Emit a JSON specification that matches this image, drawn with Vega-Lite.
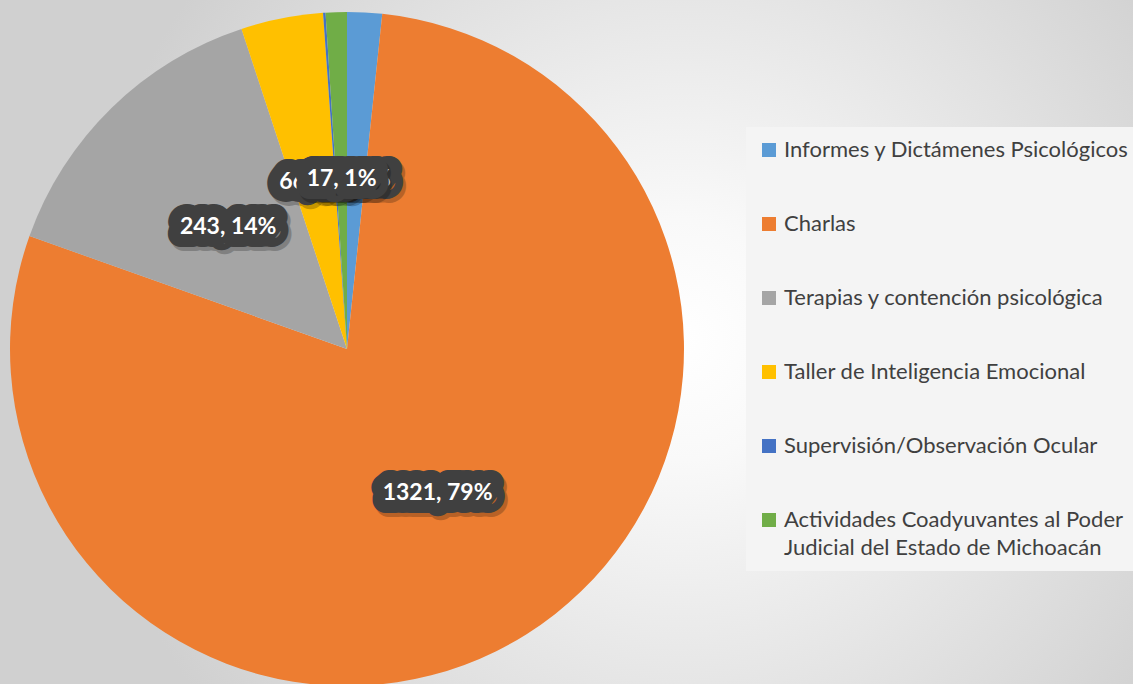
{
  "$schema": "https://vega.github.io/schema/vega-lite/v6.json",
  "width": 694,
  "height": 698,
  "autosize": {"type": "none"},
  "padding": {"left": 0, "top": 0, "right": 439, "bottom": 0},
  "background": "#dadada",
  "config": {"view": {"stroke": null}},
  "datasets": {
    "slices": [
      {"n": 1, "category": "Informes y Dictámenes Psicológicos", "value": 28, "label": "28, 2%"},
      {"n": 2, "category": "Charlas", "value": 1321, "label": "1321, 79%"},
      {"n": 3, "category": "Terapias y contención psicológica", "value": 243, "label": "243, 14%"},
      {"n": 4, "category": "Taller de Inteligencia Emocional", "value": 66, "label": "66, 4%"},
      {"n": 5, "category": "Supervisión/Observación Ocular", "value": 2, "label": "2, 0%"},
      {"n": 6, "category": "Actividades Coadyuvantes al Poder Judicial del Estado de Michoacán", "value": 17, "label": "17, 1%"}
    ],
    "backdrop": [{"name": "background"}]
  },
  "layer": [
    {
      "data": {"name": "backdrop"},
      "mark": {
        "type": "arc",
        "radius": 1000,
        "fill": {
          "gradient": "radial",
          "x1": 0.6665, "y1": 0.4955, "r1": 0,
          "x2": 0.6665, "y2": 0.4955, "r2": 0.3,
          "stops": [
            {"offset": 0, "color": "#ffffff"},
            {"offset": 0.2, "color": "#f9f9f9"},
            {"offset": 1, "color": "#d0d0d0"}
          ]
        }
      },
      "encoding": {}
    },
    {
      "data": {"name": "slices"},
      "encoding": {
        "theta": {"field": "value", "type": "quantitative", "stack": true},
        "order": {"field": "n", "type": "quantitative"}
      },
      "layer": [
        {
          "mark": {"type": "arc", "radius": 337},
          "encoding": {
            "color": {
              "field": "category",
              "type": "nominal",
              "sort": null,
              "scale": {
                "domain": ["Informes y Dictámenes Psicológicos", "Charlas", "Terapias y contención psicológica", "Taller de Inteligencia Emocional", "Supervisión/Observación Ocular", "Actividades Coadyuvantes al Poder Judicial del Estado de Michoacán"],
                "range": ["#5B9BD5", "#ED7D31", "#A5A5A5", "#FFC000", "#4472C4", "#70AD47"]
              },
              "legend": {
                "title": null,
                "orient": "none",
                "legendX": 746,
                "legendY": 127,
                "padding": 12,
                "fillColor": "#f4f4f4",
                "symbolType": "square",
                "symbolSize": 196,
                "symbolStrokeWidth": 0,
                "symbolOffset": 0,
                "labelOffset": 4,
                "labelFont": "Lato",
                "labelFontSize": 22,
                "labelColor": "#404040",
                "labelLimit": 400,
                "rowPadding": 52,
                "labelExpr": "indexof(datum.label, 'Poder Judicial') >= 0 ? ['Actividades Coadyuvantes al Poder', 'Judicial del Estado de Michoacán'] : datum.label",
                "encode": {"labels": {"update": {"lineHeight": {"value": 28}}}}
              }
            }
          }
        },
        {
          "mark": {"type": "text", "radius": 170, "font": "Lato", "fontWeight": "bold", "fontSize": 23, "align": "center", "baseline": "middle", "dx": 3, "dy": 4, "fill": "#000", "stroke": "#000", "strokeWidth": 26, "strokeJoin": "round"},
          "encoding": {"text": {"field": "label"}, "opacity": {"condition": {"test": "datum.n == 1", "value": 0.22}, "value": 0}}
        },
        {
          "mark": {"type": "text", "radius": 170, "font": "Lato", "fontWeight": "bold", "fontSize": 23, "align": "center", "baseline": "middle", "fill": "#404040", "stroke": "#404040", "strokeWidth": 26, "strokeJoin": "round"},
          "encoding": {"text": {"field": "label"}, "opacity": {"condition": {"test": "datum.n == 1", "value": 1}, "value": 0}}
        },
        {
          "mark": {"type": "text", "radius": 170, "font": "Lato", "fontWeight": "bold", "fontSize": 23, "align": "center", "baseline": "middle", "fill": "#ffffff"},
          "encoding": {"text": {"field": "label"}, "opacity": {"condition": {"test": "datum.n == 1", "value": 1}, "value": 0}}
        },
        {
          "mark": {"type": "text", "radius": 170, "font": "Lato", "fontWeight": "bold", "fontSize": 23, "align": "center", "baseline": "middle", "dx": 3, "dy": 4, "fill": "#000", "stroke": "#000", "strokeWidth": 26, "strokeJoin": "round"},
          "encoding": {"text": {"field": "label"}, "opacity": {"condition": {"test": "datum.n >= 2 && datum.n <= 5", "value": 0.22}, "value": 0}}
        },
        {
          "mark": {"type": "text", "radius": 170, "font": "Lato", "fontWeight": "bold", "fontSize": 23, "align": "center", "baseline": "middle", "fill": "#404040", "stroke": "#404040", "strokeWidth": 26, "strokeJoin": "round"},
          "encoding": {"text": {"field": "label"}, "opacity": {"condition": {"test": "datum.n >= 2 && datum.n <= 5", "value": 1}, "value": 0}}
        },
        {
          "mark": {"type": "text", "radius": 170, "font": "Lato", "fontWeight": "bold", "fontSize": 23, "align": "center", "baseline": "middle", "fill": "#ffffff"},
          "encoding": {"text": {"field": "label"}, "opacity": {"condition": {"test": "datum.n >= 2 && datum.n <= 5", "value": 1}, "value": 0}}
        },
        {
          "mark": {"type": "text", "radius": 170, "font": "Lato", "fontWeight": "bold", "fontSize": 23, "align": "center", "baseline": "middle", "dx": 3, "dy": 4, "fill": "#000", "stroke": "#000", "strokeWidth": 26, "strokeJoin": "round"},
          "encoding": {"text": {"field": "label"}, "opacity": {"condition": {"test": "datum.n == 6", "value": 0.22}, "value": 0}}
        },
        {
          "mark": {"type": "text", "radius": 170, "font": "Lato", "fontWeight": "bold", "fontSize": 23, "align": "center", "baseline": "middle", "fill": "#404040", "stroke": "#404040", "strokeWidth": 26, "strokeJoin": "round"},
          "encoding": {"text": {"field": "label"}, "opacity": {"condition": {"test": "datum.n == 6", "value": 1}, "value": 0}}
        },
        {
          "mark": {"type": "text", "radius": 170, "font": "Lato", "fontWeight": "bold", "fontSize": 23, "align": "center", "baseline": "middle", "fill": "#ffffff"},
          "encoding": {"text": {"field": "label"}, "opacity": {"condition": {"test": "datum.n == 6", "value": 1}, "value": 0}}
        }
      ]
    }
  ]
}
